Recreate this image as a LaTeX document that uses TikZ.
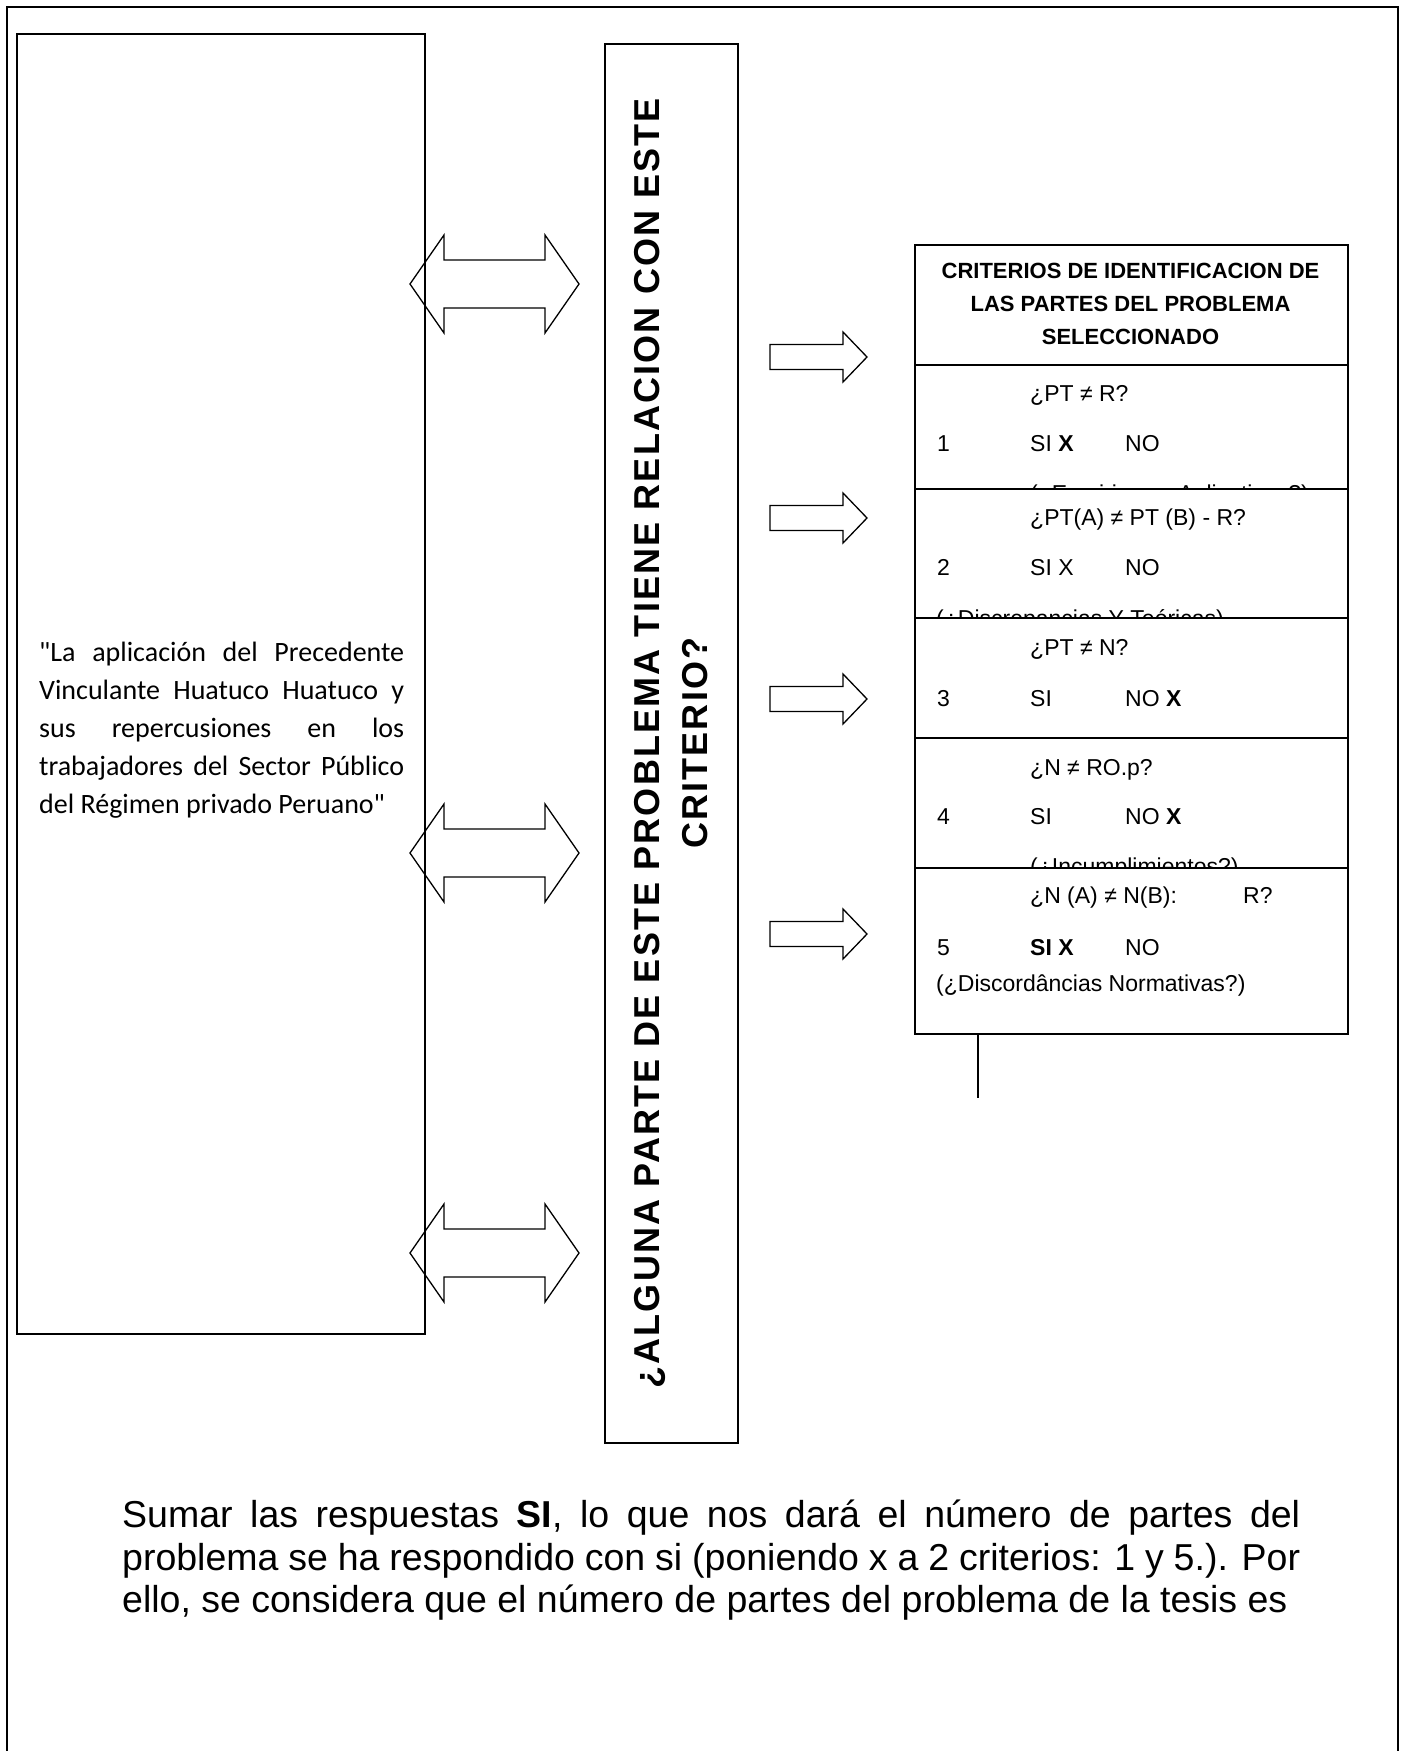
\documentclass[tikz,border=0pt]{standalone}
\usepackage{fontspec}
\setmainfont{Liberation Sans}
\newfontfamily\calibri{Carlito}
\newfontfamily\spaced[LetterSpace=6]{Liberation Sans}
\usetikzlibrary{positioning}

\begin{document}
\begin{tikzpicture}[x=1pt,y=1pt,
  box/.style={draw, line width=1.5pt, inner sep=0pt, anchor=north west},
  rowbox/.style={draw, fill=white, line width=1.5pt, inner sep=0pt, anchor=north west, minimum width=433pt},
  crit/.style={font=\fontsize{23}{27}\selectfont, inner sep=0pt, anchor=base west},
  blockarrow/.style={draw, line width=1.3pt, line join=miter}]
\useasboundingbox (0,0) rectangle (1408,-1751);
% Outer frame (its bottom edge falls off the page)
\draw[line width=1.5pt] (7,-1751) -- (7,-7) -- (1398,-7) -- (1398,-1751);
% Problem statement
\node[box, minimum width=408pt, minimum height=1300pt] (tema) at (16,-33) {};
\node[font=\calibri\fontsize{28}{38}\selectfont, text width=365pt, align=justify, inner sep=0pt, anchor=north west] (titulo) at (39,-642)
  {"La aplicación del Precedente\linebreak Vinculante Huatuco Huatuco y\linebreak sus repercusiones en los\linebreak trabajadores del Sector Público\linebreak del Régimen privado Peruano"};
% Question column
\node[box, minimum width=133pt, minimum height=1399pt] (pregunta) at (604,-43) {};
\node[rotate=90, font=\spaced\bfseries\fontsize{36}{48}\selectfont, align=center, inner sep=0pt] (textopregunta) at (pregunta.center)
  {¿ALGUNA PARTE DE ESTE PROBLEMA TIENE RELACION CON ESTE\\CRITERIO?};
%
% Double arrows between statement and question:
\draw[blockarrow, shift={(0,-284)}] (410,0) -- (444,49) -- (444,24) -- (545,24) -- (545,49) -- (579,0) -- (545,-49) -- (545,-24) -- (444,-24) -- (444,-49) -- cycle;
\draw[blockarrow, shift={(0,-853)}] (410,0) -- (444,49) -- (444,24) -- (545,24) -- (545,49) -- (579,0) -- (545,-49) -- (545,-24) -- (444,-24) -- (444,-49) -- cycle;
\draw[blockarrow, shift={(0,-1253)}] (410,0) -- (444,49) -- (444,24) -- (545,24) -- (545,49) -- (579,0) -- (545,-49) -- (545,-24) -- (444,-24) -- (444,-49) -- cycle;
% Arrows towards the criteria:
\draw[blockarrow, shift={(0,-357)}] (770,12.5) -- (843,12.5) -- (843,25) -- (867,0) -- (843,-25) -- (843,-12.5) -- (770,-12.5) -- cycle;
\draw[blockarrow, shift={(0,-518)}] (770,12.5) -- (843,12.5) -- (843,25) -- (867,0) -- (843,-25) -- (843,-12.5) -- (770,-12.5) -- cycle;
\draw[blockarrow, shift={(0,-699)}] (770,12.5) -- (843,12.5) -- (843,25) -- (867,0) -- (843,-25) -- (843,-12.5) -- (770,-12.5) -- cycle;
\draw[blockarrow, shift={(0,-934)}] (770,12.5) -- (843,12.5) -- (843,25) -- (867,0) -- (843,-25) -- (843,-12.5) -- (770,-12.5) -- cycle;
%
% Criteria table
\node[rowbox, minimum height=120pt] (cabecera) at (914,-244) {};
\node[font=\bfseries\fontsize{22}{33}\selectfont, align=center, inner sep=0pt] (titulocrit) at (1130.5,-303.5)
  {CRITERIOS DE IDENTIFICACION DE\\LAS PARTES DEL PROBLEMA\\SELECCIONADO};
% Criterion 1
\node[rowbox, minimum height=124pt] (r1) at (914,-364) {};
\node[crit] (p1) at (1030,-401) {¿PT ≠ R?};
\node[crit] (n1) at (937,-451) {1};
\node[crit] (si1) at (1030,-451) {SI \textbf{X}};
\node[crit] (no1) at (1125,-451) {NO};
\node[crit] (e1) at (1030,-501) {(¿Empirismos Aplicativos?)};
% Criterion 2
\node[rowbox, minimum height=129pt] (r2) at (914,-488) {};
\node[crit] (p2) at (1030,-525) {¿PT(A) ≠ PT (B) - R?};
\node[crit] (n2) at (937,-575) {2};
\node[crit] (si2) at (1030,-575) {SI X};
\node[crit] (no2) at (1125,-575) {NO};
\node[crit] (e2) at (936,-626) {(¿Discrepancias Y Teóricas)};
% Criterion 3
\node[rowbox, minimum height=120pt] (r3) at (914,-617) {};
\node[crit] (p3) at (1030,-655) {¿PT ≠ N?};
\node[crit] (n3) at (937,-706) {3};
\node[crit] (si3) at (1030,-706) {SI};
\node[crit] (no3) at (1125,-706) {NO \textbf{X}};
% Criterion 4
\node[rowbox, minimum height=130pt] (r4) at (914,-737) {};
\node[crit] (p4) at (1030,-775) {¿N ≠ RO.p?};
\node[crit] (n4) at (937,-824) {4};
\node[crit] (si4) at (1030,-824) {SI};
\node[crit] (no4) at (1125,-824) {NO \textbf{X}};
\node[crit] (e4) at (1030,-874) {(¿Incumplimientos?)};
% Criterion 5
\node[rowbox, minimum height=166pt] (r5) at (914,-867) {};
\node[crit] (p5) at (1030,-903) {¿N (A) ≠ N(B):};
\node[crit] (q5) at (1243,-903) {R?};
\node[crit] (n5) at (937,-955) {5};
\node[crit] (si5) at (1030,-955) {\textbf{SI X}};
\node[crit] (no5) at (1125,-955) {NO};
\node[crit] (e5) at (936,-991) {(¿Discordâncias Normativas?)};
\coordinate (cola) at (978,-1098);
\draw[line width=1.5pt] (r5.south -| cola) -- (cola);
%
% Closing remark
\node[font=\fontsize{37.5}{42.5}\selectfont, text width=1178pt, align=justify, inner sep=0pt, anchor=north west] (suma) at (122,-1500)
  {Sumar las respuestas \textbf{SI}, lo que nos dará el número de partes del\linebreak problema se ha respondido con si (poniendo x a 2 criterios: 1 y 5.). Por\linebreak ello, se considera que el número de partes del problema de la tesis es};
\end{tikzpicture}
\end{document}
